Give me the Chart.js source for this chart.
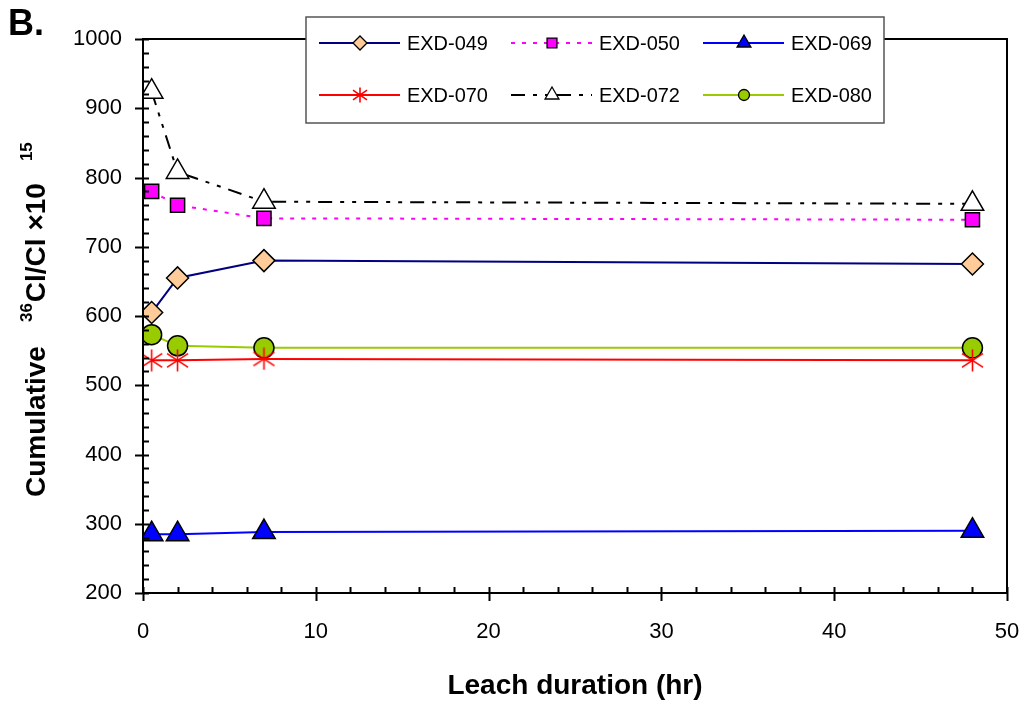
<!DOCTYPE html>
<html>
<head>
<meta charset="utf-8">
<script src="https://cdn.jsdelivr.net/npm/chart.js@4.4.1/dist/chart.umd.min.js"></script>
<style>
    html, body { margin: 0; padding: 0; background: #fff; }
    #wrap { width: 1023px; height: 705px; position: relative; }
</style>
</head>
<body>
<div id="wrap"><canvas id="leachChart" width="1023" height="705"></canvas></div>
<script>
// leach duration (hr)
const hours = [0.5, 2, 7, 48];

// cumulative 36Cl/Cl x10^15 per sample
const exd049 = [605, 655, 680, 675];
const exd050 = [780, 760, 741, 739];
const exd069 = [285, 285, 288, 290];
const exd070 = [536, 536, 538, 536];
const exd072 = [924, 808, 765, 762];
const exd080 = [573, 557, 554, 554];

const seriesLabels = ['EXD-049', 'EXD-050', 'EXD-069', 'EXD-070', 'EXD-072', 'EXD-080'];

const yTicks = [200, 300, 400, 500, 600, 700, 800, 900, 1000];
const xTicks = [0, 10, 20, 30, 40, 50];

const FONT = "'Liberation Sans', Arial, sans-serif";

function toPoints(values) {
    return hours.map((h, i) => ({ x: h, y: values[i] }));
}

// red asterisk marker (vertical bar + X)
function makeAsterisk(size) {
    const c = document.createElement('canvas');
    c.width = size;
    c.height = size;
    const g = c.getContext('2d');
    g.strokeStyle = '#ff0000';
    g.lineWidth = 1.6;
    const m = size / 2;
    g.beginPath();
    g.moveTo(m, 0.5); g.lineTo(m, size - 0.5);
    g.moveTo(1, size * 0.2); g.lineTo(size - 1, size * 0.8);
    g.moveTo(size - 1, size * 0.2); g.lineTo(1, size * 0.8);
    g.stroke();
    return c;
}

const starBig = makeAsterisk(23);
const starSmall = makeAsterisk(16);

const datasets = [
    {
        label: seriesLabels[0], data: toPoints(exd049),
        borderColor: '#000080', borderWidth: 2,
        pointStyle: 'rectRot', pointRadius: 11,
        pointBackgroundColor: '#ffcc99', pointBorderColor: '#000', pointBorderWidth: 1.5,
        legendRadius: 7
    },
    {
        label: seriesLabels[1], data: toPoints(exd050),
        borderColor: '#ff00ff', borderWidth: 2, borderDash: [4, 7],
        pointStyle: 'rect', pointRadius: 10,
        pointBackgroundColor: '#ff00ff', pointBorderColor: '#000', pointBorderWidth: 1.5,
        legendRadius: 7
    },
    {
        label: seriesLabels[2], data: toPoints(exd069),
        borderColor: '#0000ff', borderWidth: 2,
        pointStyle: 'triangle', pointRadius: 13,
        pointBackgroundColor: '#0000ff', pointBorderColor: '#000', pointBorderWidth: 1.5,
        legendRadius: 8
    },
    {
        label: seriesLabels[3], data: toPoints(exd070),
        borderColor: '#ff0000', borderWidth: 2,
        pointStyle: starBig, pointRadius: 11,
        pointBackgroundColor: '#ff0000', pointBorderColor: '#ff0000',
        legendStyle: starSmall, legendRadius: 8
    },
    {
        label: seriesLabels[4], data: toPoints(exd072),
        borderColor: '#000', borderWidth: 2, borderDash: [14, 8, 4, 8, 4, 8],
        pointStyle: 'triangle', pointRadius: 13,
        pointBackgroundColor: '#fff', pointBorderColor: '#000', pointBorderWidth: 1.5,
        legendRadius: 8
    },
    {
        label: seriesLabels[5], data: toPoints(exd080),
        borderColor: '#99cc00', borderWidth: 2,
        pointStyle: 'circle', pointRadius: 10,
        pointBackgroundColor: '#99cc00', pointBorderColor: '#000', pointBorderWidth: 1.5,
        legendRadius: 5.5
    }
];

// frame, ticks, titles and the boxed legend
const decorPlugin = {
    id: 'decor',
    afterDatasetsDraw(chart) {
        const ctx = chart.ctx;
        const area = chart.chartArea;
        const xs = chart.scales.x;
        const ys = chart.scales.y;

        ctx.save();
        ctx.strokeStyle = '#000';
        ctx.lineWidth = 2;
        ctx.strokeRect(area.left, area.top, area.right - area.left, area.bottom - area.top);

        ctx.beginPath();
        for (let v = 200; v <= 1000; v += 20) {
            const py = Math.round(ys.getPixelForValue(v)) + 0.5;
            const major = v % 100 === 0;
            ctx.moveTo(area.left - (major ? 8 : 0), py);
            ctx.lineTo(area.left + 6, py);
        }
        for (let v = 0; v <= 50; v += 2) {
            const px = Math.round(xs.getPixelForValue(v)) + 0.5;
            const major = v % 10 === 0;
            ctx.moveTo(px, area.bottom + (major ? 8 : 0));
            ctx.lineTo(px, area.bottom - 6);
        }
        ctx.stroke();

        // x title
        ctx.fillStyle = '#000';
        ctx.font = 'bold 28px ' + FONT;
        ctx.textAlign = 'center';
        ctx.textBaseline = 'middle';
        ctx.fillText('Leach duration (hr)', (area.left + area.right) / 2, 686);

        // y title with superscripts, reading upwards from y=497
        ctx.save();
        ctx.translate(45, 497);
        ctx.rotate(-Math.PI / 2);
        ctx.textAlign = 'left';
        ctx.textBaseline = 'alphabetic';
        const bigFont = 'bold 28px ' + FONT;
        const smallFont = 'bold 17px ' + FONT;
        const parts = [
            { t: 'Cumulative', big: true, gap: 24 },
            { t: '36', big: false, gap: 1 },
            { t: 'Cl/Cl \u00d710', big: true, gap: 22 },
            { t: '15', big: false, gap: 0 }
        ];
        let cx = 0;
        parts.forEach(p => {
            ctx.font = p.big ? bigFont : smallFont;
            ctx.fillText(p.t, cx, p.big ? 0 : -13);
            cx += ctx.measureText(p.t).width + p.gap;
        });
        ctx.restore();

        // panel letter
        ctx.font = 'bold 36px ' + FONT;
        ctx.textAlign = 'left';
        ctx.textBaseline = 'alphabetic';
        ctx.fillText('B.', 8, 35);

        // legend box
        const box = { left: 306, top: 17, right: 884, bottom: 123 };
        ctx.fillStyle = '#fff';
        ctx.fillRect(box.left, box.top, box.right - box.left, box.bottom - box.top);
        ctx.strokeStyle = '#555';
        ctx.lineWidth = 1.5;
        ctx.strokeRect(box.left, box.top, box.right - box.left, box.bottom - box.top);

        const colX = [319, 511, 703];
        const rowY = [43, 95];
        chart.data.datasets.forEach((ds, i) => {
            const x0 = colX[i % 3];
            const y0 = rowY[Math.floor(i / 3)];
            ctx.save();
            ctx.strokeStyle = ds.borderColor;
            ctx.lineWidth = ds.borderWidth;
            ctx.setLineDash(ds.borderDash || []);
            ctx.beginPath();
            ctx.moveTo(x0, y0);
            ctx.lineTo(x0 + 81, y0);
            ctx.stroke();
            ctx.setLineDash([]);
            ctx.fillStyle = ds.pointBackgroundColor;
            ctx.strokeStyle = ds.pointBorderColor;
            ctx.lineWidth = 1.3;
            Chart.helpers.drawPoint(ctx, {
                pointStyle: ds.legendStyle || ds.pointStyle,
                radius: ds.legendRadius,
                rotation: 0,
                borderWidth: 1.3
            }, x0 + 41, y0);
            ctx.restore();
            ctx.save();
            ctx.translate(x0 + 88, y0 + 1);
            ctx.scale(0.95, 1);
            ctx.fillStyle = '#000';
            ctx.font = '21px ' + FONT;
            ctx.textAlign = 'left';
            ctx.textBaseline = 'middle';
            ctx.fillText(ds.label, 0, 0);
            ctx.restore();
        });
        ctx.restore();
    }
};

document.addEventListener('DOMContentLoaded', () => {
    const ctx = document.getElementById('leachChart').getContext('2d');
    new Chart(ctx, {
        type: 'line',
        data: { datasets: datasets },
        options: {
            responsive: false,
            animation: false,
            layout: { padding: { top: 39, right: 16, left: 0, bottom: 0 } },
            scales: {
                x: {
                    type: 'linear',
                    min: xTicks[0],
                    max: xTicks[xTicks.length - 1],
                    afterBuildTicks: scale => { scale.ticks = xTicks.map(v => ({ value: v })); },
                    afterFit: scale => {
                        scale.height = 112;
                        scale.paddingLeft = 0;
                        scale.paddingRight = 0;
                    },
                    grid: { display: false, drawTicks: false },
                    border: { display: false },
                    ticks: {
                        padding: 26,
                        color: '#000',
                        font: { family: FONT, size: 22 },
                        callback: v => String(v)
                    }
                },
                y: {
                    min: yTicks[0],
                    max: yTicks[yTicks.length - 1],
                    afterBuildTicks: scale => { scale.ticks = yTicks.map(v => ({ value: v })); },
                    afterFit: scale => {
                        scale.width = 143;
                        scale.paddingTop = 0;
                        scale.paddingBottom = 0;
                    },
                    grid: { display: false, drawTicks: false },
                    border: { display: false },
                    ticks: {
                        padding: 21,
                        color: '#000',
                        font: { family: FONT, size: 22 },
                        callback: v => String(v)
                    }
                }
            },
            plugins: {
                legend: { display: false },
                tooltip: { enabled: false }
            }
        },
        plugins: [decorPlugin]
    });
});
</script>
</body>
</html>
